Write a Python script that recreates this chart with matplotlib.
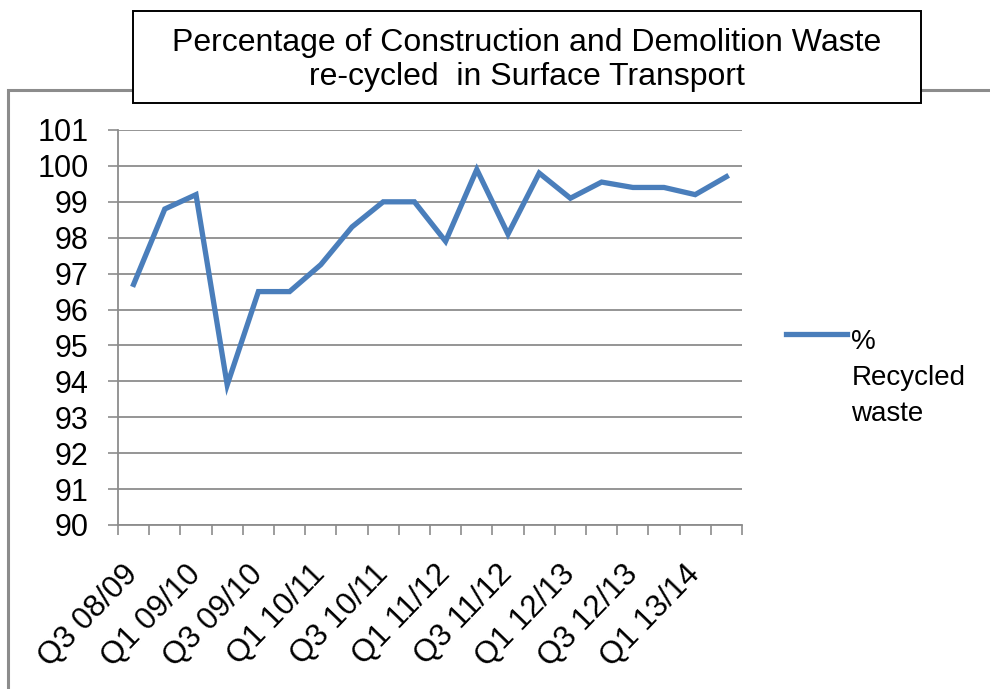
import matplotlib.pyplot as plt
from matplotlib.patches import Rectangle

plt.rcParams['font.family'] = ['Liberation Sans', 'DejaVu Sans']

quarters = ['Q3 08/09', 'Q4 08/09', 'Q1 09/10', 'Q2 09/10', 'Q3 09/10', 'Q4 09/10',
            'Q1 10/11', 'Q2 10/11', 'Q3 10/11', 'Q4 10/11', 'Q1 11/12', 'Q2 11/12',
            'Q3 11/12', 'Q4 11/12', 'Q1 12/13', 'Q2 12/13', 'Q3 12/13', 'Q4 12/13',
            'Q1 13/14', 'Q2 13/14']
recycled = [96.7, 98.8, 99.2, 93.9, 96.5, 96.5, 97.25, 98.3, 99.0, 99.0,
            97.9, 99.9, 98.1, 99.8, 99.1, 99.55, 99.4, 99.4, 99.2, 99.7]
y_ticks = list(range(90, 102))

W, H = 990, 689
fig = plt.figure(figsize=(W / 100, H / 100), dpi=100)

# outer chart frame and title box (pixel coords -> figure fraction)
fig.patches.append(Rectangle((8 / W, -0.2), 1.2, 1 - 90 / H + 0.2, transform=fig.transFigure,
                             facecolor='none', edgecolor='#8c8c8c', lw=2.2, zorder=0))
fig.patches.append(Rectangle((133 / W, 1 - 103 / H), (921 - 133) / W, (103 - 11) / H,
                             transform=fig.transFigure, facecolor='white', edgecolor='black',
                             lw=1.4, zorder=1))
fig.text(527 / W, 1 - 60 / H, 'Percentage of Construction and Demolition Waste\nre-cycled  in Surface Transport',
         ha='center', va='center', fontsize=23, linespacing=1.2, zorder=2)

ax = fig.add_axes([118 / W, 1 - 525 / H, (742 - 118) / W, (525 - 130) / H])
ax.set_facecolor('none')
x = list(range(len(quarters)))
ax.plot(x, recycled, color='#4a7ebb', lw=3.8, solid_joinstyle='miter', label='%\nRecycled\nwaste')

ax.set_xlim(-0.5, len(quarters) - 0.5)
ax.set_ylim(90, 101)
ax.set_yticks(y_ticks)
ax.yaxis.grid(True, color='#8c8c8c', lw=1.3)
ax.set_axisbelow(True)

# boundary ticks (major) and labels every other quarter (minor)
ax.set_xticks([i - 0.5 for i in range(len(quarters) + 1)])
ax.set_xticklabels([])
ax.set_xticks(x[::2], minor=True)
ax.set_xticklabels(quarters[::2], minor=True, rotation=46, ha='right', va='center',
                   rotation_mode='anchor', fontsize=22.5)
ax.tick_params(axis='x', which='minor', length=0, pad=32)
ax.tick_params(axis='x', which='major', length=7, width=1.2, color='#8c8c8c')
ax.tick_params(axis='y', length=7, width=1.2, color='#8c8c8c', labelsize=22, pad=14)

for s in ['top', 'right']:
    ax.spines[s].set_visible(False)
for s in ['left', 'bottom']:
    ax.spines[s].set_color('#8c8c8c')
    ax.spines[s].set_linewidth(1.3)

leg = fig.legend(loc='upper left', bbox_to_anchor=(775 / W, 1 - 318 / H), frameon=False,
                 fontsize=20, handlelength=2.2, handletextpad=0.15, borderaxespad=0)
leg_text = leg.get_texts()[0]
leg_text.set_linespacing(1.5)

# move legend handle up to the first line of the label
fig.canvas.draw()
handle = leg.get_lines()[0]
tb = leg_text.get_window_extent()
target = tb.y1 - tb.height / 6 + 11
hb = handle.get_window_extent()
cur = (hb.y0 + hb.y1) / 2
dy = (target - cur) * 72 / fig.dpi
handle.set_ydata([y + dy for y in handle.get_ydata()])

fig.savefig('out.png', dpi=100)
